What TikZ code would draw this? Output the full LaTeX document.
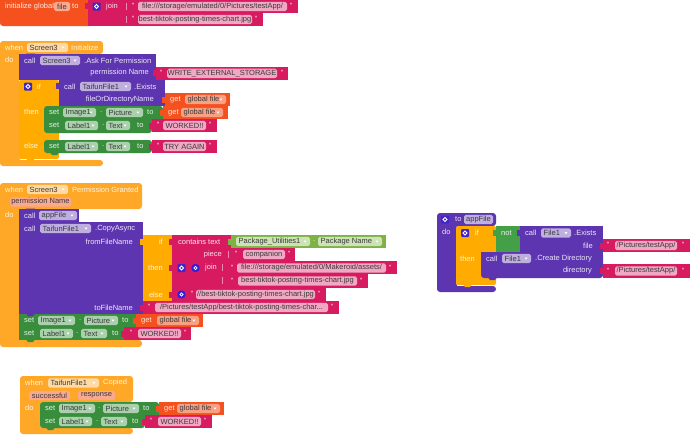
\documentclass[tikz,border=0pt]{standalone}
\usepackage{fontspec}
\setmainfont{Liberation Sans}
\definecolor{cevt}{HTML}{FFA726}
\definecolor{cif}{HTML}{FFAB00}
\definecolor{cprc}{HTML}{5E35B1}
\definecolor{cpnk}{HTML}{D81B60}
\definecolor{cgrn}{HTML}{388E3C}
\definecolor{cget}{HTML}{F4511E}
\definecolor{clim}{HTML}{7CB342}
\definecolor{cnot}{HTML}{43A047}
\definecolor{ftxt}{HTML}{3A3A3A}
\newcount\nodeno
\tikzset{x=1pt,y=-1pt,
 wtext/.style={text=white,inner sep=0pt,font=\fontsize{7.5}{9}\selectfont,opacity=.88},
 ftext/.style={text=ftxt,inner sep=0pt,font=\fontsize{7.5}{9}\selectfont},
 fevt/.style={fill=white!58!cevt}, fprc/.style={fill=white!60!cprc},
 fpnk/.style={fill=white!62!cpnk}, fgrn/.style={fill=white!58!cgrn},
 fget/.style={fill=white!50!cget}, flim/.style={fill=white!62!clim},
 fbr/.style={fill=white!45!cget}}
% block: colour x1 y1 x2 y2
\newcommand{\blk}[5]{\fill[#1] (#2,#3) rectangle (#4,#5);}
% rounded block
\newcommand{\rblk}[5]{\fill[#1,rounded corners=3pt] (#2,#3) rectangle (#4,#5);}
% input tab: colour x yc
\newcommand{\tbb}[3]{\fill[#1] (#2-3,#3-3) rectangle (#2+.5,#3+3);}
% next-statement bump: colour x y
\newcommand{\bmp}[3]{\fill[#1] (#2,#3-.5) -- (#2+9,#3-.5) -- (#2+7,#3+2) -- (#2+2,#3+2) -- cycle;}
% labels
\newcommand{\lbw}[3]{\global\advance\nodeno by 1 \node[wtext,anchor=west] (n\the\nodeno) at (#1,#2) {#3};}
\newcommand{\lrw}[3]{\global\advance\nodeno by 1 \node[wtext,anchor=east] (n\the\nodeno) at (#1,#2) {#3};}
\newcommand{\qm}[2]{\global\advance\nodeno by 1 \node[wtext,anchor=center] (n\the\nodeno) at (#1,#2) {"};}
% text field: style x1 x2 yc text
\newcommand{\fdd}[5]{\fill[#1,rounded corners=1.8pt] (#2,#4-4.7) rectangle (#3,#4+4.7);
 \global\advance\nodeno by 1 \node[ftext] (n\the\nodeno) at ({(#2+#3)/2},#4) {#5};}
% dropdown field: style x1 x2 yc text
\newcommand{\ddn}[5]{\fill[#1,rounded corners=1.8pt] (#2,#4-4.7) rectangle (#3,#4+4.7);
 \global\advance\nodeno by 1 \node[ftext,anchor=west] (n\the\nodeno) at (#2+2.5,#4) {#5};
 \fill[white] (#3-6.5,#4-1) -- (#3-3.5,#4-1) -- (#3-5,#4+1.2) -- cycle;}
% string block: x1 x2 yc qx1 fx1 fx2 qx2 text
\newcommand{\sv}[8]{\fill[cpnk] (#1,#3-6.6) rectangle (#2,#3+6.6); \tbb{cpnk}{#1}{#3}
 \qm{#4}{#3-.5}\fdd{fpnk}{#5}{#6}{#3}{#8}\qm{#7}{#3-.5}}
% get block: x1 x2 yc fx1 fx2
\newcommand{\gtb}[5]{\fill[cget] (#1,#3-6.6) rectangle (#2,#3+6.6); \tbb{cget}{#1}{#3}
 \lbw{#1+5}{#3}{get}\ddn{fbr}{#4}{#5}{#3}{global file}}
% icons
\newcommand{\squ}[2]{\fill[cprc!70!blue,rounded corners=1pt] (#1-4,#2-4) rectangle (#1+4,#2+4);
 \draw[white,line width=.9pt] (#1,#2) circle (1.9);}
\newcommand{\circq}[2]{\fill[cprc!55!blue] (#1,#2) circle (4.2);
 \draw[white,line width=.8pt] (#1,#2) circle (1.6);}
\begin{document}
\begin{tikzpicture}
\useasboundingbox (0,0) rectangle (690,434);
\fill[white] (0,0) rectangle (690,434);

%% initialize global
\rblk{cget}{0}{-3}{92}{26}
\blk{cget}{40}{-3}{92}{26}
\fill[cpnk] (88,0) rectangle (298,13);
\fill[cpnk] (88,13) rectangle (263,26);
\tbb{cpnk}{88}{6}
\lbw{5}{6.5}{initialize global}
\fdd{fget}{54}{70}{6.5}{file}
\lbw{72}{6.5}{to}
\squ{96.5}{6.5}
\lbw{106}{6.5}{join}
\draw[white,opacity=.5] (126,3)--(126,10) (126,16)--(126,23);
\qm{133}{6}\fdd{fpnk}{138}{287}{6.5}{file:///storage/emulated/0/Pictures/testApp/}\qm{291}{6}
\qm{133}{19}\fdd{fpnk}{138}{252}{19.5}{best-tiktok-posting-times-chart.jpg}\qm{256}{19}

%% Screen3.Initialize
\fill[cevt,rounded corners=3pt] (0,41) -- (103,41) -- (103,54) -- (19,54) -- (19,160) -- (103,160) -- (103,166) -- (0,166) -- cycle;
\lbw{5}{47.5}{when}
\ddn{fevt}{27}{68}{47.5}{Screen3}
\lbw{71}{47.5}{Initialize}
\lbw{5}{60}{do}
\fill[cprc] (19,54) rectangle (156,80);
\bmp{cprc}{26}{54}
\lbw{24}{60.5}{call}
\ddn{fprc}{40}{80}{60.5}{Screen3}
\lbw{84}{60.5}{.Ask For Permission}
\lrw{149}{73}{permission Name}
\sv{156}{288}{73.4}{161}{167}{277}{282}{WRITE\_EXTERNAL\_STORAGE}
% if block
\fill[cif,rounded corners=2pt] (19,80) -- (59,80) -- (59,132) -- (59,140) -- (59,159) -- (19,159) -- cycle;
\draw[white,opacity=.8,line width=.6pt] (20,159.4) -- (59,159.4);
\bmp{cif}{26}{159}
\squ{28}{86.5}
\lbw{37}{86.5}{if}
\fill[cprc] (59,80) rectangle (165,106);
\tbb{cprc}{59}{86}
\lbw{64}{86.5}{call}
\ddn{fprc}{80}{131}{86.5}{TaifunFile1}
\lbw{134}{86.5}{.Exists}
\lrw{154}{99.5}{fileOrDirectoryName}
\gtb{165}{230}{99.5}{185}{226}
\lbw{24}{112}{then}
\rblk{cgrn}{44}{106}{163}{119}
\blk{cgrn}{44}{110}{163}{119}
\lbw{49}{112.5}{set}
\ddn{fgrn}{63}{96}{112.5}{Image1}
\lbw{100}{112.5}{.}
\ddn{fgrn}{106}{143}{112.5}{Picture}
\lbw{147}{112.5}{to}
\gtb{163}{228}{112.5}{181}{223}
\rblk{cgrn}{44}{119}{152}{133}
\blk{cgrn}{44}{119}{152}{128}
\lbw{49}{125.5}{set}
\ddn{fgrn}{65}{98}{125.5}{Label1}
\lbw{102}{125.5}{.}
\ddn{fgrn}{106}{130}{125.5}{Text}
\lbw{137}{125.5}{to}
\sv{152}{217}{125.5}{158}{163}{206}{210}{WORKED!!}
\lbw{24}{146}{else}
\rblk{cgrn}{44}{140}{152}{153}
\bmp{cgrn}{50}{153}
\lbw{49}{146.5}{set}
\ddn{fgrn}{65}{98}{146.5}{Label1}
\lbw{102}{146.5}{.}
\ddn{fgrn}{106}{130}{146.5}{Text}
\lbw{137}{146.5}{to}
\sv{152}{217}{146.5}{158}{163}{206}{210}{TRY AGAIN}

%% Permission Granted
\fill[cevt,rounded corners=3pt] (0,183) -- (142,183) -- (142,209) -- (19,209) -- (19,340) -- (142,340) -- (142,347) -- (0,347) -- cycle;
\lbw{5}{189.5}{when}
\ddn{fevt}{27}{68}{189.5}{Screen3}
\lbw{72}{189.5}{Permission Granted}
\fdd{fget}{10}{71}{202}{permission Name}
\lbw{5}{215}{do}
\fill[cprc] (19,209) rectangle (79,222);
\bmp{cprc}{26}{209}
\lbw{24}{215.5}{call}
\ddn{fprc}{39}{77}{215.5}{appFile}
\fill[cprc] (19,222) rectangle (143,314);
\lbw{24}{228.5}{call}
\ddn{fprc}{40}{91}{228.5}{TaifunFile1}
\lbw{95}{228.5}{.CopyAsync}
\lrw{133}{241.5}{fromFileName}
\lrw{133}{307.5}{toFileName}
% ternary
\fill[cif] (143,235) rectangle (172,301);
\tbb{cif}{143}{241.5}
\lrw{163}{241.5}{if}
\lrw{163}{268}{then}
\lrw{163}{294.5}{else}
\fill[cpnk] (172,235) rectangle (231,248);
\tbb{cpnk}{172}{241.5}
\lbw{178}{241.5}{contains text}
\fill[clim] (231,235) rectangle (386,248);
\tbb{clim}{231}{241.5}
\ddn{flim}{236}{310}{241.5}{Package\_Utilities1}
\lbw{313}{241.5}{.}
\ddn{flim}{318}{382}{241.5}{Package Name}
\fill[cpnk] (172,248) rectangle (225,261);
\lrw{222}{254.5}{piece}
\sv{225}{295}{254.5}{236}{243}{285}{289}{companion}
\draw[white,opacity=.5] (228,251)--(228,258);
\fill[cpnk] (172,261) rectangle (397,274);
\fill[cpnk] (172,274) rectangle (368,288);
\tbb{cpnk}{172}{267.5}
\squ{181.5}{268}
\circq{195.5}{268}
\lbw{205}{268}{join}
\draw[white,opacity=.5] (222,264)--(222,271) (222,277)--(222,284);
\qm{232}{267.5}\fdd{fpnk}{237}{386}{268}{file:///storage/emulated/0/Makeroid/assets/}\qm{390}{267.5}
\qm{232}{280.5}\fdd{fpnk}{238}{357}{281}{best-tiktok-posting-times-chart.jpg}\qm{361}{280.5}
\fill[cpnk] (172,288) rectangle (326,301);
\tbb{cpnk}{172}{294.5}
\circq{181.5}{294.5}
\qm{192}{294}\fdd{fpnk}{196}{315}{294.5}{//best-tiktok-posting-times-chart.jpg}\qm{319}{294}
\sv{143}{339}{307.5}{149}{155}{328}{332}{/Pictures/testApp/best-tiktok-posting-times-char...}
\fill[cgrn] (19,314) rectangle (136,327);
\bmp{cprc}{26}{314}
\lbw{24}{320.5}{set}
\ddn{fgrn}{38}{75}{320.5}{Image1}
\lbw{79}{320.5}{.}
\ddn{fgrn}{84}{118}{320.5}{Picture}
\lbw{122}{320.5}{to}
\gtb{136}{203}{320.5}{157}{199}
\fill[cgrn] (19,327) rectangle (124,340);
\bmp{cgrn}{26}{340}
\lbw{24}{333.5}{set}
\ddn{fgrn}{40}{73}{333.5}{Label1}
\lbw{76}{333.5}{.}
\ddn{fgrn}{81}{107}{333.5}{Text}
\lbw{112}{333.5}{to}
\sv{124}{191}{333.5}{131}{138}{181}{185}{WORKED!!}

%% Copied
\fill[cevt,rounded corners=3pt] (20,376) -- (133,376) -- (133,402) -- (40,402) -- (40,428) -- (133,428) -- (133,434) -- (20,434) -- cycle;
\lbw{25}{383}{when}
\ddn{fevt}{48}{99}{383}{TaifunFile1}
\lbw{103}{383}{Copied}
\fdd{fget}{29}{70}{395.5}{successful}
\fdd{fget}{78}{115}{395.5}{response}
\lbw{25}{408}{do}
\rblk{cgrn}{40}{402}{159}{415}
\blk{cgrn}{40}{407}{159}{415}
\lbw{45}{408.5}{set}
\ddn{fgrn}{59}{95}{408.5}{Image1}
\lbw{98}{408.5}{.}
\ddn{fgrn}{103}{139}{408.5}{Picture}
\lbw{143}{408.5}{to}
\gtb{159}{224}{408.5}{177}{220}
\rblk{cgrn}{40}{415}{145}{428}
\blk{cgrn}{40}{415}{145}{423}
\bmp{cgrn}{46}{428}
\lbw{45}{421.5}{set}
\ddn{fgrn}{59}{92}{421.5}{Label1}
\lbw{96}{421.5}{.}
\ddn{fgrn}{101}{127}{421.5}{Text}
\lbw{132}{421.5}{to}
\sv{145}{212}{421.5}{151}{158}{201}{205}{WORKED!!}

%% appFile procedure
\fill[cprc,rounded corners=3pt] (437,213) -- (496,213) -- (496,226) -- (456,226) -- (456,286) -- (496,286) -- (496,292) -- (437,292) -- cycle;
\squ{445}{219.5}
\lbw{455}{219.5}{to}
\fdd{fprc}{464}{493}{219.5}{appFile}
\lbw{442}{232}{do}
\fill[cif,rounded corners=2pt] (456,226) -- (496,226) -- (496,285) -- (456,285) -- cycle;
\draw[white,opacity=.8,line width=.6pt] (457,285.5) -- (496,285.5);
\bmp{cif}{463}{285}
\squ{465}{233}
\lbw{475}{233}{if}
\lbw{460}{258.5}{then}
\fill[cnot] (496,226) rectangle (520,252);
\tbb{cnot}{496}{233}
\lbw{501}{233}{not}
\fill[cprc] (520,226) rectangle (603,252);
\tbb{cprc}{520}{233}
\lbw{525}{233}{call}
\ddn{fprc}{541}{571}{233}{File1}
\lbw{574}{233}{.Exists}
\lrw{593}{245.5}{file}
\sv{603}{690}{245.5}{608}{615}{677}{683}{/Pictures/testApp/}
\rblk{cprc}{481}{252}{603}{278}
\blk{cprc}{481}{252}{603}{270}
\bmp{cprc}{488}{278}
\lbw{486}{258.5}{call}
\ddn{fprc}{502}{531}{258.5}{File1}
\lbw{535}{258.5}{.Create Directory}
\lrw{592}{271}{directory}
\sv{603}{690}{271}{608}{615}{677}{683}{/Pictures/testApp/}
\end{tikzpicture}
\end{document}
